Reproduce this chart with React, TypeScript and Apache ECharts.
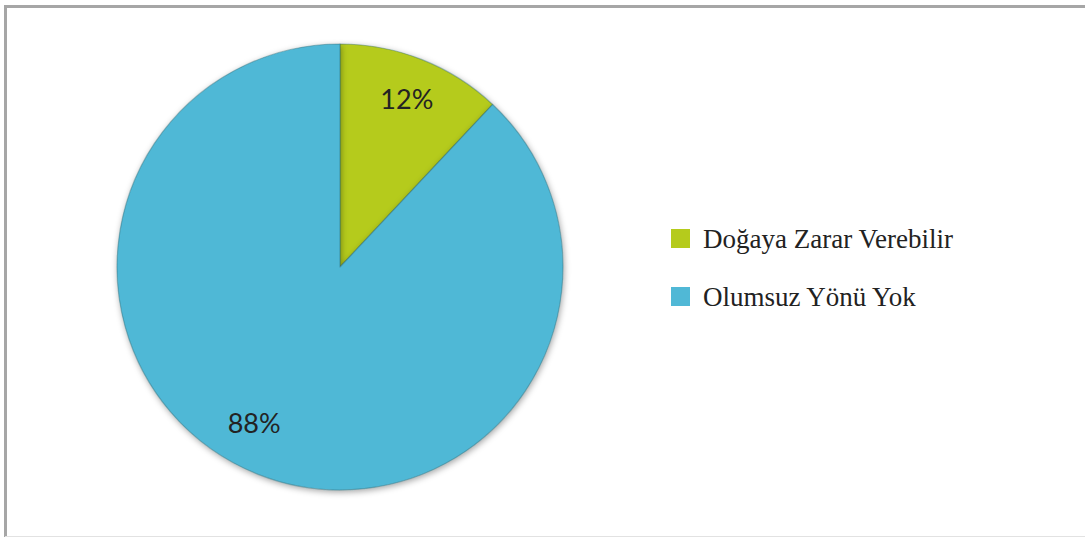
import React, { useEffect, useRef } from "react";
import * as echarts from "echarts";

const categories = ["Doğaya Zarar Verebilir", "Olumsuz Yönü Yok"];
const values = [12, 88];
const colors = ["#b5cb1c", "#50b8d6"];

const SERIF = "Liberation Serif";

export default function App() {
  const ref = useRef<HTMLDivElement>(null);
  useEffect(() => {
    if (!ref.current) return;
    const chart = echarts.init(ref.current, null, { renderer: "svg" });
    const data = categories.map((name, i) => ({
      name,
      value: values[i],
      itemStyle: { color: colors[i] },
    }));
    const labelData = categories.map((name, i) => ({
      name,
      value: values[i],
      label: i === 1 ? { offset: [-19, -13] } : {},
    }));
    chart.setOption({
      animation: false,
      backgroundColor: "#ffffff",
      legend: {
        orient: "vertical",
        left: 666,
        top: 220,
        itemWidth: 19,
        itemHeight: 19,
        itemGap: 31,
        icon: "rect",
        data: categories,
        itemStyle: { borderWidth: 0 },
        textStyle: {
          fontFamily: SERIF,
          fontSize: 27,
          lineHeight: 27,
          color: "#222222",
          padding: [0, 0, 0, 8],
        },
      },
      graphic: [
        {
          type: "polyline",
          shape: { points: [[5.5, 537], [5.5, 6.5], [1085, 6.5]] },
          style: { stroke: "#a6a6a6", lineWidth: 3, fill: "none" },
          silent: true,
        },
        {
          type: "line",
          shape: { x1: 5, y1: 536.5, x2: 1085, y2: 536.5 },
          style: { stroke: "#e2e2e2", lineWidth: 1 },
          silent: true,
        },
      ],
      series: [
        {
          type: "pie",
          center: [340, 267],
          radius: [0, 223],
          startAngle: 90,
          clockwise: true,
          data,
          label: { show: false },
          labelLine: { show: false },
          itemStyle: {
            borderColor: "rgba(40,100,110,0.4)",
            borderWidth: 1.2,
            shadowBlur: 6,
            shadowOffsetY: 2,
            shadowOffsetX: 1,
            shadowColor: "rgba(0,0,0,0.35)",
          },
          emphasis: { disabled: true },
          silent: true,
        },
        {
          type: "pie",
          center: [340, 267],
          radius: [134, 223],
          startAngle: 90,
          clockwise: true,
          data: labelData,
          itemStyle: { color: "rgba(0,0,0,0)", borderWidth: 0 },
          label: {
            show: true,
            position: "inside",
            formatter: "{d}%",
            fontFamily: "Lato",
            fontSize: 27,
            color: "#232323",
          },
          labelLine: { show: false },
          emphasis: { disabled: true },
          silent: true,
        },
      ],
    });
    return () => chart.dispose();
  }, []);
  return (
    <div
      ref={ref}
      style={{ position: "fixed", left: 0, top: 0, width: 1085, height: 537 }}
    />
  );
}
